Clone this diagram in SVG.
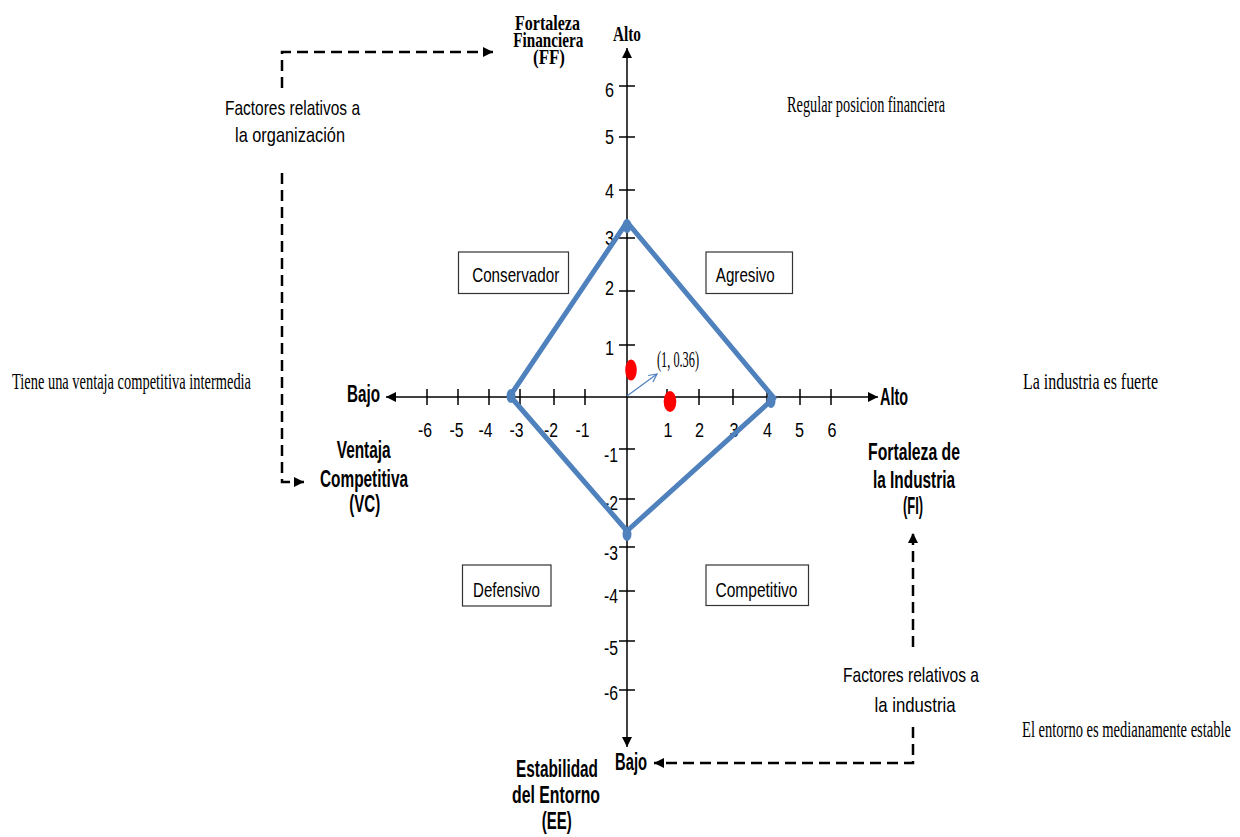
<svg xmlns="http://www.w3.org/2000/svg" width="1240" height="837" viewBox="0 0 1240 837">
  <style>
    .axis { stroke: #000; stroke-width: 1.5; fill: none; }
    .tick { stroke: #000; stroke-width: 1.5; }
    .num { font-family: "Liberation Sans", Arial, sans-serif; font-size: 20px; fill: #000; }
    .sans { font-family: "Liberation Sans", Arial, sans-serif; font-size: 21px; fill: #000; }
    .bold { font-family: "Liberation Sans", Arial, sans-serif; font-size: 23px; font-weight: bold; fill: #000; }
    .serif { font-family: "Liberation Serif", "Times New Roman", serif; font-size: 24px; fill: #000; }
    .serifb { font-family: "Liberation Serif", "Times New Roman", serif; font-size: 22px; font-weight: bold; fill: #000; }
    .box { fill: #fff; stroke: #333; stroke-width: 1.2; }
    .dash { stroke: #000; stroke-width: 2.5; fill: none; stroke-dasharray: 11 6; }
    .diamond { stroke: #4F81BD; stroke-width: 5; fill: none; stroke-linejoin: round; }
    .vertex { fill: #4F81BD; }
    .pt { fill: #FF0000; }
    .mid { text-anchor: middle; }
    .end { text-anchor: end; }
  </style>
  <defs>
    <marker id="axisHead" viewBox="0 0 10 10" refX="10" refY="5" markerWidth="10" markerHeight="10" markerUnits="userSpaceOnUse" orient="auto">
      <path d="M0,0 L10,5 L0,10 Z" fill="#000"/>
    </marker>
    <marker id="dashHead" viewBox="0 0 10 10" refX="10" refY="5" markerWidth="11" markerHeight="10" markerUnits="userSpaceOnUse" orient="auto">
      <path d="M0,0 L10,5 L0,10 Z" fill="#000"/>
    </marker>
    <marker id="openHead" viewBox="0 0 10 10" refX="9" refY="5" markerWidth="10" markerHeight="10" markerUnits="userSpaceOnUse" orient="auto">
      <path d="M1,1 L9,5 L1,9" fill="none" stroke="#4F81BD" stroke-width="1.2"/>
    </marker>
  </defs>

  <!-- axes -->
  <g id="axes">
    <line class="axis" x1="627" y1="397" x2="386" y2="397" marker-end="url(#axisHead)"/>
    <line class="axis" x1="627" y1="397" x2="878" y2="397" marker-end="url(#axisHead)"/>
    <line class="axis" x1="627" y1="397" x2="627" y2="48" marker-end="url(#axisHead)"/>
    <line class="axis" x1="627" y1="397" x2="627" y2="747" marker-end="url(#axisHead)"/>
    <!-- horizontal ticks -->
    <g class="tick">
      <line x1="427" y1="389" x2="427" y2="405"/>
      <line x1="458" y1="389" x2="458" y2="405"/>
      <line x1="489" y1="389" x2="489" y2="405"/>
      <line x1="520" y1="389" x2="520" y2="405"/>
      <line x1="554" y1="389" x2="554" y2="405"/>
      <line x1="585" y1="389" x2="585" y2="405"/>
      <line x1="667" y1="389" x2="667" y2="405"/>
      <line x1="699" y1="389" x2="699" y2="405"/>
      <line x1="733" y1="389" x2="733" y2="405"/>
      <line x1="767" y1="389" x2="767" y2="405"/>
      <line x1="800" y1="389" x2="800" y2="405"/>
      <line x1="831" y1="389" x2="831" y2="405"/>
    </g>
    <!-- vertical ticks -->
    <g class="tick">
      <line x1="619" y1="86" x2="635" y2="86"/>
      <line x1="619" y1="137" x2="635" y2="137"/>
      <line x1="619" y1="190" x2="635" y2="190"/>
      <line x1="619" y1="238" x2="635" y2="238"/>
      <line x1="619" y1="291" x2="635" y2="291"/>
      <line x1="619" y1="345" x2="635" y2="345"/>
      <line x1="619" y1="449" x2="635" y2="449"/>
      <line x1="619" y1="499" x2="635" y2="499"/>
      <line x1="619" y1="547" x2="635" y2="547"/>
      <line x1="619" y1="591" x2="635" y2="591"/>
      <line x1="619" y1="641" x2="635" y2="641"/>
      <line x1="619" y1="690" x2="635" y2="690"/>
    </g>
    <!-- horizontal scale -->
    <g class="num mid">
      <text x="425" y="437" textLength="14" lengthAdjust="spacingAndGlyphs">-6</text>
      <text x="456.5" y="437" textLength="14" lengthAdjust="spacingAndGlyphs">-5</text>
      <text x="485.5" y="437" textLength="14" lengthAdjust="spacingAndGlyphs">-4</text>
      <text x="516.5" y="437" textLength="14" lengthAdjust="spacingAndGlyphs">-3</text>
      <text x="551" y="437" textLength="14" lengthAdjust="spacingAndGlyphs">-2</text>
      <text x="582.5" y="437" textLength="14" lengthAdjust="spacingAndGlyphs">-1</text>
      <text x="668" y="437" textLength="9" lengthAdjust="spacingAndGlyphs">1</text>
      <text x="699.5" y="437" textLength="9" lengthAdjust="spacingAndGlyphs">2</text>
      <text x="734" y="437" textLength="9" lengthAdjust="spacingAndGlyphs">3</text>
      <text x="767.5" y="437" textLength="9" lengthAdjust="spacingAndGlyphs">4</text>
      <text x="799.5" y="437" textLength="9" lengthAdjust="spacingAndGlyphs">5</text>
      <text x="832" y="437" textLength="9" lengthAdjust="spacingAndGlyphs">6</text>
    </g>
    <!-- vertical scale -->
    <g class="num end">
      <text x="614" y="97" textLength="9" lengthAdjust="spacingAndGlyphs">6</text>
      <text x="614" y="144" textLength="9" lengthAdjust="spacingAndGlyphs">5</text>
      <text x="614" y="198" textLength="9" lengthAdjust="spacingAndGlyphs">4</text>
      <text x="614" y="245" textLength="9" lengthAdjust="spacingAndGlyphs">3</text>
      <text x="614" y="295" textLength="9" lengthAdjust="spacingAndGlyphs">2</text>
      <text x="614" y="355" textLength="9" lengthAdjust="spacingAndGlyphs">1</text>
      <text x="618" y="461.5" textLength="14" lengthAdjust="spacingAndGlyphs">-1</text>
      <text x="618" y="510" textLength="14" lengthAdjust="spacingAndGlyphs">-2</text>
      <text x="618" y="560" textLength="14" lengthAdjust="spacingAndGlyphs">-3</text>
      <text x="618" y="603" textLength="14" lengthAdjust="spacingAndGlyphs">-4</text>
      <text x="618" y="655" textLength="14" lengthAdjust="spacingAndGlyphs">-5</text>
      <text x="618" y="700" textLength="14" lengthAdjust="spacingAndGlyphs">-6</text>
    </g>
    <!-- axis end labels -->
    <text class="bold" x="347" y="402" textLength="33" lengthAdjust="spacingAndGlyphs">Bajo</text>
    <text class="bold" x="880" y="405" textLength="28" lengthAdjust="spacingAndGlyphs">Alto</text>
    <text class="bold" x="615" y="770" textLength="32" lengthAdjust="spacingAndGlyphs">Bajo</text>
    <text class="serifb mid" x="627" y="40.5" font-size="19" textLength="28" lengthAdjust="spacingAndGlyphs">Alto</text>
  </g>

  <!-- quadrant boxes -->
  <g id="conservador">
    <rect class="box" x="458.5" y="252" width="110" height="41.5"/>
    <text class="sans mid" x="515.7" y="282" font-size="22" textLength="87" lengthAdjust="spacingAndGlyphs">Conservador</text>
  </g>
  <g id="agresivo">
    <rect class="box" x="706" y="252" width="86.5" height="41.5"/>
    <text class="sans mid" x="745.3" y="282" font-size="22" textLength="59" lengthAdjust="spacingAndGlyphs">Agresivo</text>
  </g>
  <g id="defensivo">
    <rect class="box" x="462.5" y="565" width="88.5" height="41"/>
    <text class="sans mid" x="506.5" y="597" font-size="22" textLength="67" lengthAdjust="spacingAndGlyphs">Defensivo</text>
  </g>
  <g id="competitivo">
    <rect class="box" x="706" y="565" width="102.5" height="40.5"/>
    <text class="sans mid" x="756.5" y="597" font-size="22" textLength="82" lengthAdjust="spacingAndGlyphs">Competitivo</text>
  </g>

  <!-- strategic position polygon -->
  <g id="poligono">
    <polygon class="diamond" points="627,222 774,398 627,531 510,396"/>
    <ellipse class="vertex" cx="627" cy="226" rx="4.5" ry="7"/>
    <ellipse class="vertex" cx="511" cy="396" rx="4.5" ry="7"/>
    <ellipse class="vertex" cx="771" cy="401" rx="4.5" ry="7"/>
    <ellipse class="vertex" cx="627" cy="534" rx="4.5" ry="7"/>
  </g>

  <!-- resulting vector -->
  <g id="vector">
    <ellipse class="pt" cx="631" cy="370" rx="5.8" ry="10.6"/>
    <ellipse class="pt" cx="670" cy="401.5" rx="6.3" ry="10.6"/>
    <line x1="627" y1="396" x2="657" y2="374" stroke="#4F81BD" stroke-width="1.2" marker-end="url(#openHead)"/>
    <text class="serif" x="657" y="367" font-size="17" textLength="42" lengthAdjust="spacingAndGlyphs">(1, 0.36)</text>
  </g>

  <!-- dimension titles -->
  <g id="ff">
    <text class="serifb mid" x="547.5" y="30" textLength="65" lengthAdjust="spacingAndGlyphs">Fortaleza</text>
    <text class="serifb mid" x="548.3" y="47" textLength="70" lengthAdjust="spacingAndGlyphs">Financiera</text>
    <text class="serifb mid" x="549" y="64" textLength="32" lengthAdjust="spacingAndGlyphs">(FF)</text>
  </g>
  <g id="vc">
    <text class="bold mid" x="363.7" y="458" textLength="54" lengthAdjust="spacingAndGlyphs">Ventaja</text>
    <text class="bold mid" x="364" y="486.5" textLength="88" lengthAdjust="spacingAndGlyphs">Competitiva</text>
    <text class="bold mid" x="364.7" y="512" textLength="31" lengthAdjust="spacingAndGlyphs">(VC)</text>
  </g>
  <g id="fi">
    <text class="bold mid" x="914" y="460" textLength="92" lengthAdjust="spacingAndGlyphs">Fortaleza de</text>
    <text class="bold mid" x="914" y="488" textLength="82" lengthAdjust="spacingAndGlyphs">la Industria</text>
    <text class="bold mid" x="913" y="514" textLength="20" lengthAdjust="spacingAndGlyphs">(FI)</text>
  </g>
  <g id="ee">
    <text class="bold mid" x="557" y="776.5" textLength="82" lengthAdjust="spacingAndGlyphs">Estabilidad</text>
    <text class="bold mid" x="556" y="803" textLength="88" lengthAdjust="spacingAndGlyphs">del Entorno</text>
    <text class="bold mid" x="556.7" y="829" textLength="30" lengthAdjust="spacingAndGlyphs">(EE)</text>
  </g>

  <!-- factor groups -->
  <g id="factores-organizacion">
    <text class="sans mid" x="292.5" y="115" textLength="135" lengthAdjust="spacingAndGlyphs">Factores relativos a</text>
    <text class="sans mid" x="290" y="142" textLength="110" lengthAdjust="spacingAndGlyphs">la organización</text>
  </g>
  <g id="factores-industria">
    <text class="sans mid" x="911" y="682" textLength="136" lengthAdjust="spacingAndGlyphs">Factores relativos a</text>
    <text class="sans mid" x="915" y="712" textLength="81" lengthAdjust="spacingAndGlyphs">la industria</text>
  </g>

  <!-- evaluations -->
  <g id="evaluaciones">
    <text class="serif" x="787" y="112" textLength="158" lengthAdjust="spacingAndGlyphs">Regular posicion financiera</text>
    <text class="serif" x="12" y="389" textLength="239" lengthAdjust="spacingAndGlyphs">Tiene una ventaja competitiva intermedia</text>
    <text class="serif" x="1023" y="389" textLength="135" lengthAdjust="spacingAndGlyphs">La industria es fuerte</text>
    <text class="serif" x="1022" y="737" textLength="209" lengthAdjust="spacingAndGlyphs">El entorno es medianamente estable</text>
  </g>

  <!-- dashed connectors -->
  <g id="conectores">
    <path class="dash" d="M282,88 V52 H493" marker-end="url(#dashHead)"/>
    <path class="dash" d="M282,173 V482 H304" marker-end="url(#dashHead)"/>
    <path class="dash" d="M913,647 V533" marker-end="url(#dashHead)"/>
    <path class="dash" d="M913,727 V763 H654" marker-end="url(#dashHead)"/>
  </g>
</svg>
